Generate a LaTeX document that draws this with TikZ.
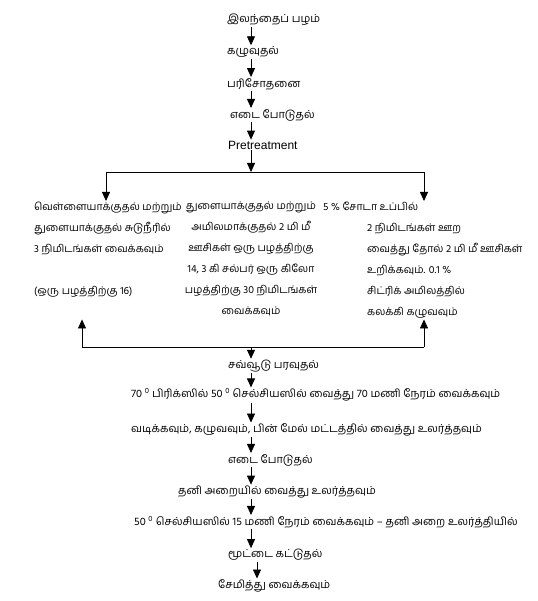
\documentclass[tikz,border=0pt]{standalone}
\usepackage{fontspec}
\setmainfont{Liberation Sans}
\newfontfamily\tamilfont[Script=Tamil]{Hind Madurai}
\usetikzlibrary{arrows.meta, positioning, calc}

\begin{document}
\begin{tikzpicture}[x=1pt, y=-1pt,
  stage/.style={anchor=west, inner sep=1pt, font=\tamilfont\fontsize{11}{13}\selectfont},
  column/.style={inner sep=1pt, font=\tamilfont\fontsize{10.5}{21}\selectfont},
  arr/.style={-{Triangle[length=9pt, width=8pt]}, line width=0.8pt},
  link/.style={line width=0.8pt}
]
  \useasboundingbox (0,0) rectangle (537,601);
  \coordinate (axis) at (251,0);
  \coordinate (axisB) at (257,0);

  % top chain
  \node[stage] (fruit) at (226,20) {இலந்தைப் பழம்};
  \node[stage] (wash) at (226,52) {கழுவுதல்};
  \node[stage] (check) at (226,84) {பரிசோதனை};
  \node[stage] (weigh) at (229,115) {எடை போடுதல்};
  \node[stage, font=\fontsize{12}{14}\selectfont] (pre) at (227,145) {Pretreatment};

  \foreach \a/\b in {fruit/wash, wash/check, check/weigh, weigh/pre}
    \draw[arr] (\a.south -| axis) -- (\b.north -| axis);

  % three pretreatments
  \coordinate (split) at (251,172);
  \coordinate (splitL) at (106,172);
  \coordinate (splitR) at (424,172);

  \node[column, anchor=north west, align=left] (blanch) at (33,201) {
    வெள்ளையாக்குதல் மற்றும்\\
    துளையாக்குதல் சுடுநீரில்\\
    3 நிமிடங்கள் வைக்கவும்\\[21pt]
    (ஒரு பழத்திற்கு 16)
  };
  \node[column, anchor=north, align=center] (sulph) at (251,201) {
    துளையாக்குதல் மற்றும்\\
    அமிலமாக்குதல் 2 மி மீ\\
    ஊசிகள் ஒரு பழத்திற்கு\\
    14, 3 கி சல்பர் ஒரு கிலோ\\
    பழத்திற்கு 30 நிமிடங்கள்\\
    வைக்கவும்
  };
  \node[column, anchor=north west] (soda) at (322,201) {5 \% சோடா உப்பில்};
  \node[column, anchor=north west, align=left] (peel) at (366,222) {
    2 நிமிடங்கள் ஊற\\
    வைத்து தோல் 2 மி மீ ஊசிகள்\\
    உறிக்கவும். 0.1 \%\\
    சிட்ரிக் அமிலத்தில்\\
    கலக்கி கழுவவும்
  };

  \draw[arr] (pre.south -| axis) -- (split);
  \draw[link] (splitL) -- (splitR);
  \draw[arr] (splitL) -- (splitL |- blanch.north);
  \draw[arr] (splitR) -- (splitR |- blanch.north);

  % merge
  \coordinate (merge) at (251,347);
  \coordinate (mergeL) at (82,347);
  \coordinate (mergeR) at (424,347);
  \draw[link] (mergeL) -- (mergeR);
  \draw[arr] (mergeL) -- (mergeL |- peel.south);
  \draw[arr] (mergeR) -- (mergeR |- peel.south);

  % bottom chain
  \node[stage] (osmo) at (227,366) {சவ்வூடு பரவுதல்};
  \node[stage] (syrup) at (130,395) {70 \textsuperscript{0} பிரிக்ஸில் 50 \textsuperscript{0} செல்சியஸில் வைத்து 70 மணி நேரம் வைக்கவும்};
  \node[stage] (drain) at (130,430) {வடிக்கவும், கழுவவும், பின் மேல் மட்டத்தில் வைத்து உலர்த்தவும்};
  \node[stage] (weighB) at (227,460) {எடை போடுதல்};
  \node[stage] (room) at (177,492) {தனி அறையில் வைத்து உலர்த்தவும்};
  \node[stage] (dryer) at (133,522) {50 \textsuperscript{0} செல்சியஸில் 15 மணி நேரம் வைக்கவும் – தனி அறை உலர்த்தியில்};
  \node[stage] (pack) at (227,555) {மூட்டை கட்டுதல்};
  \node[stage] (store) at (217,586) {சேமித்து வைக்கவும்};

  \draw[arr] (merge) -- (osmo.north -| axis);
  \foreach \a/\b in {osmo/syrup, syrup/drain, drain/weighB, weighB/room, room/dryer, dryer/pack}
    \draw[arr] (\a.south -| axis) -- (\b.north -| axis);
  \draw[arr] (pack.south -| axisB) -- (store.north -| axisB);
\end{tikzpicture}
\end{document}
